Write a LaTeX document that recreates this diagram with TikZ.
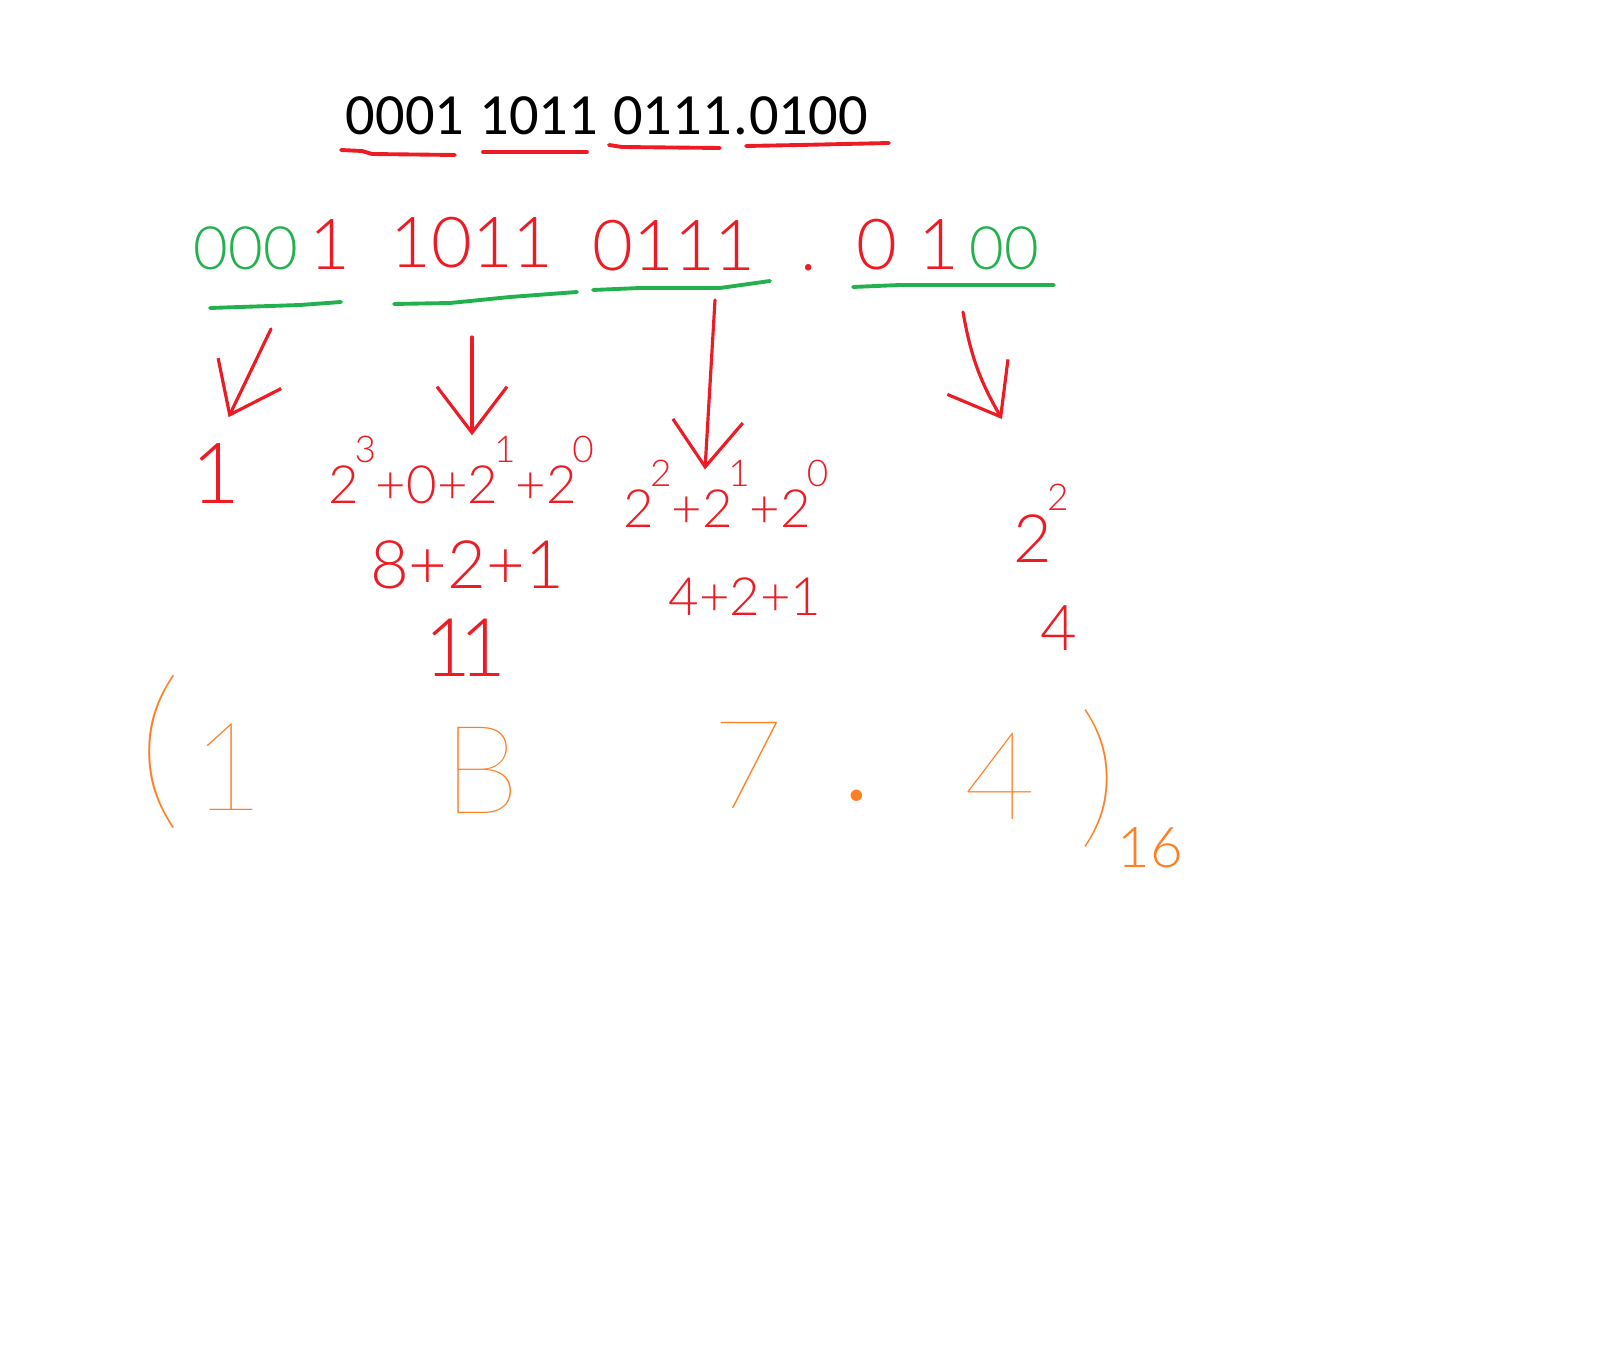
\documentclass[tikz,border=0pt]{standalone}
\usepackage{fontspec}
\setmainfont{Carlito}
\IfFontExistsTF{Lato Light}
  {\newfontfamily\handfont{Lato Light}}
  {\newfontfamily\handfont{Open Sans}}
\IfFontExistsTF{Lato Thin}
  {\newfontfamily\thinfont{Lato Thin}}
  {\let\thinfont\handfont}
\usepackage{graphicx}
\usepackage{xcolor}
\usetikzlibrary{positioning,arrows.meta}

\definecolor{penred}{RGB}{237,28,36}
\definecolor{pengreen}{RGB}{34,177,76}
\definecolor{penorange}{RGB}{255,127,39}

% exponent written above the base
\newcommand{\pw}[1]{\kern-0.08em\raisebox{0.78em}{\fontsize{10.5}{11}\selectfont #1}}

\begin{document}
\begin{tikzpicture}[
    x=0.01cm, y=-0.01cm,
    every node/.style={inner sep=0pt},
    bits/.style={font=\fontsize{16.6}{20}\selectfont},
    grp/.style={font=\handfont\fontsize{20}{24}\selectfont, text=penred},
    work/.style={font=\handfont\fontsize{15}{19}\selectfont, text=penred},
    hex/.style={font=\thinfont\fontsize{35}{40}\selectfont, text=penorange},
    redline/.style={draw=penred, line width=1.1pt, line cap=round},
    greenline/.style={draw=pengreen, line width=1.1pt, line cap=round},
    pen/.style={draw=penred, line width=0.9pt, line cap=round, -{Straight Barb[length=4.6mm, width=7mm]}}
]
\useasboundingbox (0,0) rectangle (1620,1370);

% Binary number
\node[bits] (b1) at (405,116) {0001};
\node[bits, right=0.14cm of b1] (b2) {1011};
\node[bits, right=0.14cm of b2] (b3) {0111};
\node[bits, anchor=base west] (bdot) at (b3.base east) {.};
\node[bits, anchor=base west] (b4) at (bdot.base east) {0100};

% red underlines
\draw[redline] (341,150) -- (362,151) -- (372,154) -- (455,155);
\draw[redline] (483,152) -- (587,152);
\draw[redline] (609,145) -- (622,147) -- (720,148);
\draw[redline] (746,146) -- (800,145) -- (889,143);

% Groups of four
\node[grp] (g1) at (272,245) {{\color{pengreen}\fontsize{17}{20}\selectfont 000}\,1};
\node[grp] (g2) at (472,243) {1011};
\node[grp] (g3) at (674,246) {0111};
\node[grp] (gdot) at (809,268) {.};
\node[grp] (g4) at (948,245) {0\hspace{0.3em}1\hspace{0.15em}{\color{pengreen}\fontsize{17}{20}\selectfont 00}};

% green underlines
\draw[greenline] (210,308) -- (300,305) -- (341,302);
\draw[greenline] (394,304) -- (450,303) -- (510,297) -- (577,292);
\draw[greenline] (593,290) -- (640,288) -- (720,288) -- (770,281);
\draw[greenline] (853,287) -- (900,285) -- (1054,285);

% Arrows
\coordinate (s1) at (271,329);
\coordinate (s2) at (472,337);
\coordinate (s3) at (715,300);
\coordinate (s4) at (963,312);

% Sums
\node[work, font=\handfont\fontsize{24}{28}\selectfont] (v1) at (216,474) {1};
\node[work] (v2) at (461,470) {2\pw{3}+0+2\pw{1}+2\pw{0}};
\node[work, font=\handfont\fontsize{19}{23}\selectfont] (w2) at (467,565) {8+2+1};
\node[work, font=\handfont\fontsize{23}{27}\selectfont] (eq) at (465,648) {1\kern-0.15em1};
\node[work] (v3) at (726,494) {2\pw{2}+2\pw{1}+2\pw{0}};
\node[work] (w3) at (745,597) {4+2+1};
\node[work, font=\handfont\fontsize{19}{23}\selectfont] (v4) at (1041,523) {2\pw{2}};
\node[work, font=\handfont\fontsize{18}{22}\selectfont] (w4) at (1059,628) {4};

\draw[pen, shorten >=0.29cm] (s1) -- (v1.north);
\draw[pen] (s2) -- (s2 |- v2.north);
\draw[pen] (s3) -- ([shift={(-21,10)}]v3.north);
\draw[pen] (s4) to[bend right=10] ([shift={(-39,-64)}]v4.north);

% Hexadecimal result
\node[hex, font=\thinfont\fontsize{50}{56}\selectfont] (lpar) at (160,752) {(};
\node[hex] (h1) at (228,767) {1};
\node[hex] (h2) at (482,770) {B};
\node[hex] (h3) at (748,765) {7};
\node[hex, font=\handfont\fontsize{35}{40}\selectfont] (hdot) at (857,796) {.};
\node[hex] (h4) at (1000,776) {4};
\node[hex, font=\thinfont\fontsize{45}{50}\selectfont] (rpar) at (1098,778) {)};
\node[hex, font=\handfont\fontsize{16}{18}\selectfont] (base) at (1150,848) {16};
\end{tikzpicture}
\end{document}
